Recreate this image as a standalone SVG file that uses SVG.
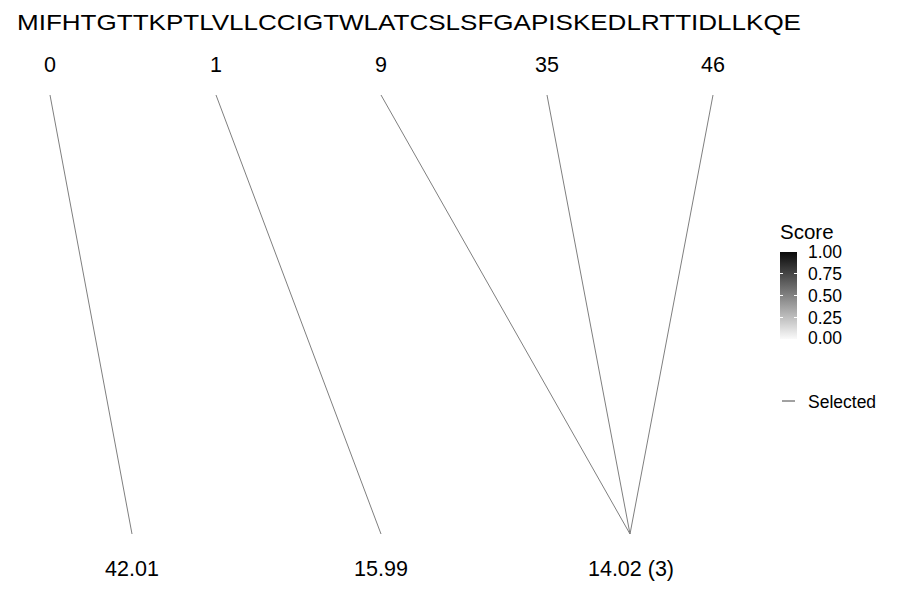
<svg xmlns="http://www.w3.org/2000/svg" width="900" height="600" viewBox="0 0 900 600">
<style>
text{font-family:"Liberation Sans",Arial,sans-serif;fill:#000}
.seq{font-size:22px}
.lab{font-size:21.5px;text-anchor:middle}
.leg{font-size:17.5px}
.conn line{stroke:#7f7f7f;stroke-width:1}
</style>
<defs>
<linearGradient id="g" x1="0" y1="0" x2="0" y2="1">
<stop offset="0" stop-color="#0a0a0a"/>
<stop offset="1" stop-color="#fafafa"/>
</linearGradient>
</defs>
<rect width="900" height="600" fill="#fff"/>
<text class="seq" x="17" y="30" textLength="784" lengthAdjust="spacingAndGlyphs">MIFHTGTTKPTLVLLCCIGTWLATCSLSFGAPISKEDLRTTIDLLKQE</text>
<g id="top0"><text class="lab" x="50" y="72">0</text></g>
<g id="top1"><text class="lab" x="216" y="72">1</text></g>
<g id="top9"><text class="lab" x="381" y="72">9</text></g>
<g id="top35"><text class="lab" x="547" y="72">35</text></g>
<g id="top46"><text class="lab" x="713" y="72">46</text></g>
<g id="bot1"><text class="lab" x="132" y="576">42.01</text></g>
<g id="bot2"><text class="lab" x="381" y="576">15.99</text></g>
<g id="bot3"><text class="lab" x="631" y="576">14.02 (3)</text></g>
<g class="conn" id="connectors">
<line x1="50" y1="95" x2="132" y2="534"/>
<line x1="216" y1="95" x2="381" y2="534"/>
<line x1="381" y1="95" x2="630" y2="534"/>
<line x1="547" y1="95" x2="630" y2="534"/>
<line x1="713" y1="95" x2="630" y2="534"/>
</g>
<g id="legend">
<text x="780" y="239" style="font-size:20.5px">Score</text>
<rect x="780" y="252" width="17" height="87" fill="url(#g)"/>
<g stroke="#fff" stroke-width="1">
<line x1="780" y1="273.5" x2="783" y2="273.5"/><line x1="794" y1="273.5" x2="797" y2="273.5"/>
<line x1="780" y1="295.5" x2="783" y2="295.5"/><line x1="794" y1="295.5" x2="797" y2="295.5"/>
<line x1="780" y1="317.5" x2="783" y2="317.5"/><line x1="794" y1="317.5" x2="797" y2="317.5"/>
</g>
<text class="leg" x="808" y="258">1.00</text>
<text class="leg" x="808" y="280">0.75</text>
<text class="leg" x="808" y="302">0.50</text>
<text class="leg" x="808" y="323.5">0.25</text>
<text class="leg" x="808" y="344">0.00</text>
<line x1="782" y1="401" x2="795" y2="401" stroke="#444" stroke-width="1"/>
<text class="leg" x="808" y="408">Selected</text>
</g>
</svg>
